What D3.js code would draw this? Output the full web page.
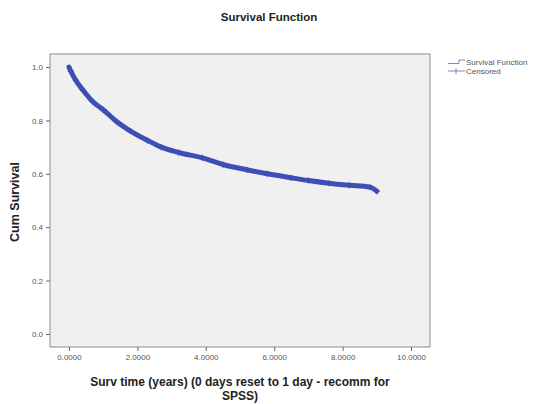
<!DOCTYPE html>
<html>
<head>
<meta charset="utf-8">
<script src="https://cdn.jsdelivr.net/npm/d3@7"></script>
<style>
body { margin: 0; background: #fff; }
svg text { font-family: "Liberation Sans", Arial, sans-serif; }
</style>
</head>
<body>
<div id="chart"></div>
<script>
// survival estimates (time in years, cum survival)
var survTimes = [0, 0.05, 0.2, 0.4, 0.7, 1.0, 1.4, 1.8, 2.3, 2.7, 3.2, 3.9, 4.5, 5.2, 5.8, 6.5, 7.0, 7.6, 8.2, 8.8, 9.0];
var survValues = [1.0, 0.985, 0.95, 0.915, 0.87, 0.84, 0.795, 0.76, 0.725, 0.70, 0.68, 0.66, 0.635, 0.615, 0.60, 0.585, 0.575, 0.565, 0.557, 0.55, 0.535];
var xTicks = [0, 2, 4, 6, 8, 10];
var yTicks = [0, 0.2, 0.4, 0.6, 0.8, 1.0];

var width = 546, height = 404;
var box = {left: 50, top: 54, right: 430, bottom: 347};
var lineColor = "#3d4fb4";

var svg = d3.select("#chart").append("svg")
    .attr("width", width)
    .attr("height", height);

var x = d3.scaleLinear().domain([-0.555, 10.555]).range([box.left, box.right]);
var y = d3.scaleLinear().domain([-0.049, 1.049]).range([box.bottom, box.top]);

var data = survTimes.map(function (t, i) { return {t: t, s: survValues[i]}; });

// plot background
svg.append("rect")
    .attr("x", box.left)
    .attr("y", box.top)
    .attr("width", box.right - box.left)
    .attr("height", box.bottom - box.top)
    .attr("fill", "#f0f0f0")
    .attr("stroke", "#8c8c8c")
    .attr("stroke-width", 1);

// axes
var xAxis = svg.append("g")
    .attr("transform", "translate(0," + box.bottom + ")")
    .call(d3.axisBottom(x).tickValues(xTicks).tickSize(4).tickPadding(3).tickFormat(d3.format(".4f")));
var yAxis = svg.append("g")
    .attr("transform", "translate(" + box.left + ",0)")
    .call(d3.axisLeft(y).tickValues(yTicks).tickSize(4).tickPadding(3).tickFormat(d3.format(".1f")));

[xAxis, yAxis].forEach(function (a) {
    a.select(".domain").remove();
    a.selectAll("line").attr("stroke", "#666");
    a.selectAll("text")
        .attr("fill", "#555")
        .style("font-size", "8px");
});

// survival curve
var line = d3.line()
    .x(function (d) { return x(d.t); })
    .y(function (d) { return y(d.s); })
    .curve(d3.curveMonotoneX);

svg.append("path")
    .datum(data)
    .attr("fill", "none")
    .attr("stroke", lineColor)
    .attr("stroke-width", 5)
    .attr("stroke-linecap", "round")
    .attr("d", line);

// censored marks
svg.append("g")
    .selectAll("path")
    .data(data.slice(1))
    .enter().append("path")
    .attr("d", function (d) {
        var px = x(d.t), py = y(d.s);
        return "M" + (px - 3) + "," + py + "H" + (px + 3) + "M" + px + "," + (py - 3) + "V" + (py + 3);
    })
    .attr("stroke", lineColor)
    .attr("stroke-width", 1.2);

// title
svg.append("text")
    .attr("x", 269)
    .attr("y", 21)
    .attr("text-anchor", "middle")
    .attr("font-weight", "bold")
    .style("font-size", "11.5px")
    .attr("fill", "#222")
    .text("Survival Function");

// axis labels
svg.append("text")
    .attr("transform", "translate(19," + 202 + ") rotate(-90)")
    .attr("text-anchor", "middle")
    .attr("font-weight", "bold")
    .style("font-size", "12.5px")
    .attr("fill", "#222")
    .text("Cum Survival");

var xLabel = svg.append("text")
    .attr("text-anchor", "middle")
    .attr("font-weight", "bold")
    .style("font-size", "12px")
    .attr("fill", "#222");
xLabel.append("tspan").attr("x", 240).attr("y", 386).text("Surv time (years) (0 days reset to 1 day - recomm for");
xLabel.append("tspan").attr("x", 240).attr("y", 400).text("SPSS)");

// legend
var legend = svg.append("g").attr("transform", "translate(448,62)");
legend.append("path")
    .attr("d", "M0,1.5H11V-2H17")
    .attr("fill", "none")
    .attr("stroke", "#5a6bbf")
    .attr("stroke-width", 0.8);
legend.append("text")
    .attr("x", 18).attr("y", 3)
    .style("font-size", "8px")
    .attr("fill", "#555")
    .text("Survival Function");
legend.append("path")
    .attr("d", "M0,9H17M8,6V12")
    .attr("stroke", "#5a6bbf")
    .attr("stroke-width", 0.8);
legend.append("text")
    .attr("x", 18).attr("y", 12)
    .style("font-size", "8px")
    .attr("fill", "#555")
    .text("Censored");
</script>
</body>
</html>
